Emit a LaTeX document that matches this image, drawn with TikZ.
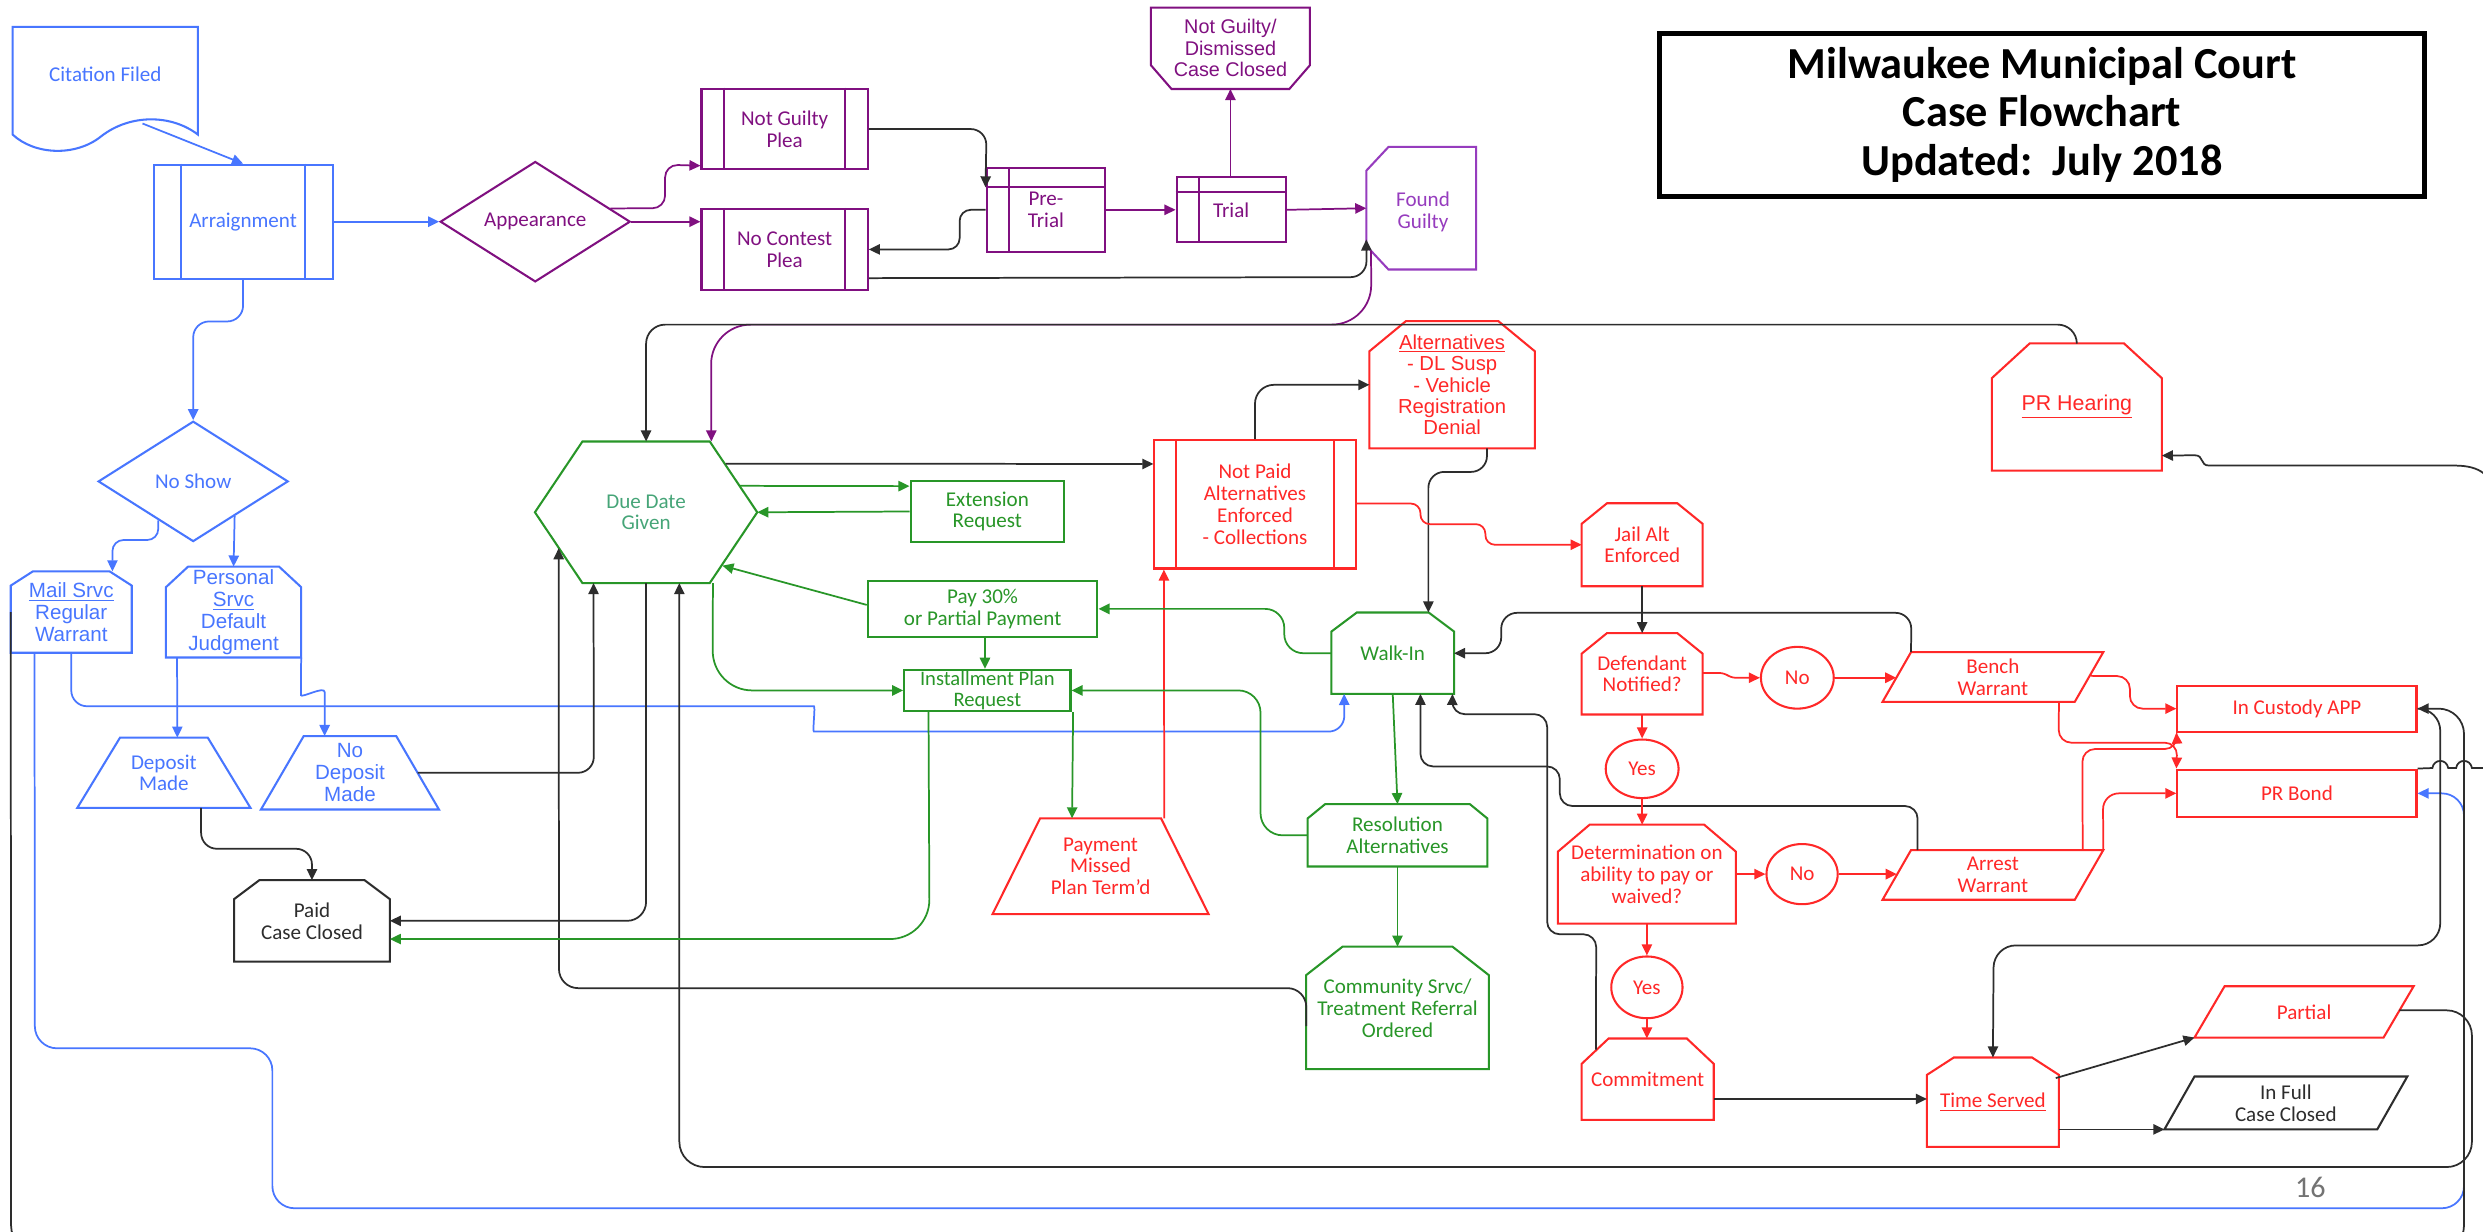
\documentclass[tikz,border=0pt]{standalone}
\usepackage{fontspec}
\setmainfont{Carlito}
\newfontfamily\arialf{Liberation Sans}
\usetikzlibrary{arrows.meta,calc,shapes.geometric}
\definecolor{bC}{RGB}{72,118,255}
\definecolor{pC}{RGB}{128,16,128}
\definecolor{pL}{RGB}{150,60,190}
\definecolor{gC}{RGB}{40,150,40}
\definecolor{gT}{RGB}{70,165,120}
\definecolor{rC}{RGB}{255,40,40}
\definecolor{kC}{RGB}{45,45,45}
\tikzset{
  shp/.style={line width=1.3pt},
  cn/.style={line width=1.1pt, rounded corners=#1, -{Triangle[length=7pt,width=6.5pt]}},
  cn/.default=8pt,
  ln/.style={line width=1.1pt},
  nd/.style 2 args={minimum width=#1pt, minimum height=#2pt, inner sep=0pt, align=center,
     font=\fontsize{13.3}{13.8}\selectfont},
  arf/.style={font=\arialf\fontsize{13}{13.8}\selectfont},
}
\newcommand\myChamT[4]{\draw[shp,#4] (#1.south west) -- ($(#1.north west)+(0,#3)$) -- ($(#1.north west)+(#2,0)$) -- ($(#1.north east)+(-#2,0)$) -- ($(#1.north east)+(0,#3)$) -- (#1.south east) -- cycle;}
\newcommand\myChamB[4]{\draw[shp,#4] (#1.north west) -- (#1.north east) -- ($(#1.south east)+(0,-#3)$) -- ($(#1.south east)+(-#2,0)$) -- ($(#1.south west)+(#2,0)$) -- ($(#1.south west)+(0,-#3)$) -- cycle;}
\newcommand\myChamL[4]{\draw[shp,#4] ($(#1.north west)+(#2,0)$) -- (#1.north east) -- (#1.south east) -- ($(#1.south west)+(#2,0)$) -- ($(#1.south west)+(0,-#3)$) -- ($(#1.north west)+(0,#3)$) -- cycle;}
\newcommand\myHexa[3]{\draw[shp,#3] (#1.west) -- ($(#1.north west)+(#2,0)$) -- ($(#1.north east)+(-#2,0)$) -- (#1.east) -- ($(#1.south east)+(-#2,0)$) -- ($(#1.south west)+(#2,0)$) -- cycle;}
\newcommand\myTrap[3]{\draw[shp,#3] ($(#1.north west)+(#2,0)$) -- ($(#1.north east)+(-#2,0)$) -- (#1.south east) -- (#1.south west) -- cycle;}
\newcommand\myPara[3]{\draw[shp,#3] ($(#1.north west)+(#2,0)$) -- (#1.north east) -- ($(#1.south east)+(-#2,0)$) -- (#1.south west) -- cycle;}
\newcommand\mySubr[3]{\draw[shp,#3] ($(#1.north west)+(#2,0)$) -- ($(#1.south west)+(#2,0)$); \draw[shp,#3] ($(#1.north east)+(-#2,0)$) -- ($(#1.south east)+(-#2,0)$);}
\newcommand\myStore[4]{\draw[shp,#4] ($(#1.north west)+(#2,0)$) -- ($(#1.south west)+(#2,0)$); \draw[shp,#4] ($(#1.north west)+(0,#3)$) -- ($(#1.north east)+(0,#3)$);}
\begin{document}
\begin{tikzpicture}[x=1pt,y=-1pt]
\fill[white] (0,0) rectangle (1568,778);
\useasboundingbox (0,0) rectangle (1568,778);

% ---------- title
\node[draw=black, line width=3pt, minimum width=483pt, minimum height=103pt, inner sep=0pt, align=center,
  font=\fontsize{28}{30.5}\selectfont\bfseries] (title) at (1289.5,72.5)
  {Milwaukee Municipal Court\\Case Flowchart\\Updated:\ \ July 2018};

% ---------- blue nodes
\node[nd={117}{60}, color=bC] (cit) at (66.5,47) {Citation Filed};
\draw[shp,bC] (8,17) -- (125,17) -- (125,85) .. controls (108,72) and (82,72) .. (64,86) .. controls (48,99) and (22,98) .. (8,85) -- cycle;
\coordinate (citw) at (90,78);
\node[nd={113}{72}, draw, shp, color=bC] (arr) at (153.5,140) {Arraignment};
\mySubr{arr}{18}{bC}
\node[diamond, aspect=1.58, draw, shp, color=bC, minimum width=120pt, minimum height=76pt, inner sep=0pt,
  font=\fontsize{13.3}{13.8}\selectfont] (nosh) at (122,304) {No Show};
\node[nd={76}{51}, arf, color=bC] (mail) at (45,386.5) {\underline{Mail Srvc}\\Regular\\Warrant};
\myChamT{mail}{14}{9}{bC}
\node[nd={85}{57}, arf, color=bC] (pers) at (147.5,386.5) {Personal\\\underline{Srvc}\\Default\\Judgment};
\myChamT{pers}{14}{13}{bC}
\node[nd={109}{44}, color=bC] (dep) at (103.5,488) {Deposit\\Made};
\myTrap{dep}{27}{bC}
\node[nd={112}{46}, arf, color=bC] (nodep) at (221,488) {No\\Deposit\\Made};
\myTrap{nodep}{27}{bC}
\node[nd={98}{51}, color=kC] (paid) at (197,581.5) {Paid\\Case Closed};
\myChamT{paid}{16}{12}{kC}

% ---------- purple nodes
\node[diamond, aspect=1.58, draw, shp, color=pC, minimum width=120pt, minimum height=76pt, inner sep=0pt,
  font=\fontsize{13.3}{13.8}\selectfont] (app) at (338,140) {Appearance};
\node[nd={105}{51}, draw, shp, color=pC] (ngp) at (495.5,81.5) {Not Guilty\\Plea};
\mySubr{ngp}{15}{pC}
\node[nd={105}{51}, draw, shp, color=pC] (ncp) at (495.5,157.5) {No Contest\\Plea};
\mySubr{ncp}{15}{pC}
\node[nd={75}{53}, draw, shp, color=pC] (pre) at (660.5,132.5) {Pre-\\Trial};
\myStore{pre}{15}{13}{pC}
\node[nd={69}{41}, draw, shp, color=pC] (trial) at (777.5,132.5) {Trial};
\myStore{trial}{15}{10}{pC}
\node[nd={100}{51}, color=pC, font=\arialf\fontsize{12.5}{13.5}\selectfont] (ngd) at (777,30.5) {Not Guilty/\\Dismissed\\Case Closed};
\myChamB{ngd}{13}{15}{pC}
\node[nd={69}{77}, color=pL] (fg) at (897.5,131.5) {\mbox{}\\\,Found\\\,Guilty};
\myChamL{fg}{14}{15}{pL}

% ---------- green nodes
\node[nd={140}{89}, color=gT] (due) at (408,323.5) {Due Date\\Given};
\myHexa{due}{30}{gC}
\node[nd={97}{38}, draw=gC, shp, text=gC] (ext) at (623.5,323) {Extension\\Request};
\node[nd={145}{35}, draw=gC, shp, text=gC] (pay) at (620.5,384.5) {Pay 30\%\\or Partial Payment};
\node[nd={105}{26}, draw=gC, shp, text=gC, font=\fontsize{13}{13}\selectfont] (inst) at (623.5,436) {Installment Plan\\Request};
\node[nd={77}{51}, color=gC] (walk) at (879.5,412.5) {Walk-In};
\myChamT{walk}{16}{12}{gC}
\node[nd={113}{39}, color=gC] (reso) at (882.5,527.5) {Resolution\\Alternatives};
\myChamT{reso}{11}{9}{gC}
\node[nd={115}{77}, color=gC] (comm) at (882.5,636.5) {Community Srvc/\\Treatment Referral\\Ordered};
\myChamT{comm}{23}{18}{gC}

% ---------- red nodes
\node[nd={127}{81}, draw, shp, color=rC] (np) at (792.5,318.5) {Not Paid\\Alternatives\\Enforced\\- Collections};
\mySubr{np}{14}{rC}
\node[nd={104}{80}, color=rC, font=\arialf\fontsize{12.8}{13.5}\selectfont] (alt) at (917,243)
  {\underline{Alternatives}\\- DL Susp\\- Vehicle\\Registration\\Denial};
\myChamT{alt}{23}{19}{rC}
\node[nd={107}{80}, color=rC, font=\arialf\fontsize{13.5}{14}\selectfont] (prh) at (1311.5,257) {\underline{PR Hearing}};
\myChamT{prh}{24}{22}{rC}
\node[nd={136}{60}, color=rC] (pm) at (695,547) {Payment\\Missed\\Plan Term’d};
\myTrap{pm}{30}{rC}
\node[nd={76}{52}, color=rC] (jail) at (1037,344) {Jail Alt\\Enforced};
\myChamT{jail}{16}{13}{rC}
\node[nd={76}{51}, color=rC] (dn) at (1037,425.5) {Defendant\\Notified?};
\myChamT{dn}{16}{13}{rC}
\node[ellipse, draw, shp, color=rC, minimum width=46pt, minimum height=39pt, inner sep=0pt,
  font=\fontsize{13.3}{13.8}\selectfont] (no1) at (1135,428) {No};
\node[nd={139}{31}, color=rC] (bw) at (1258.5,427.5) {Bench\\Warrant};
\myPara{bw}{18}{rC}
\node[nd={151}{29}, draw, shp, color=rC] (ica) at (1450.5,447.5) {In Custody APP};
\node[nd={151}{30}, draw, shp, color=rC] (prb) at (1450.5,501) {PR Bond};
\node[ellipse, draw, shp, color=rC, minimum width=46pt, minimum height=37pt, inner sep=0pt,
  font=\fontsize{13.3}{13.8}\selectfont] (yes1) at (1037,485.5) {Yes};
\node[nd={112}{62}, color=rC] (det) at (1040,552) {Determination on\\ability to pay or\\waived?};
\myChamT{det}{20}{17}{rC}
\node[ellipse, draw, shp, color=rC, minimum width=45pt, minimum height=38pt, inner sep=0pt,
  font=\fontsize{13.3}{13.8}\selectfont] (no2) at (1138,552) {No};
\node[nd={139}{31}, color=rC] (aw) at (1258.5,552.5) {Arrest\\Warrant};
\myPara{aw}{18}{rC}
\node[ellipse, draw, shp, color=rC, minimum width=45pt, minimum height=39pt, inner sep=0pt,
  font=\fontsize{13.3}{13.8}\selectfont] (yes2) at (1040,623.5) {Yes};
\node[nd={83}{51}, color=rC] (com) at (1040.5,681.5) {Commitment};
\myChamT{com}{17}{16}{rC}
\node[nd={83}{56}, color=rC] (ts) at (1258.5,696) {\underline{Time Served}};
\myChamT{ts}{17}{11}{rC}
\node[nd={138}{32}, color=rC] (part) at (1455,639) {Partial};
\myPara{part}{19}{rC}
\node[nd={153}{33}, color=kC] (inf) at (1443.5,696.5) {In Full\\Case Closed};
\myPara{inf}{19}{kC}
\node[font=\fontsize{19}{19}\selectfont, text=black!55] (pgnum) at (1459,750) {16};

% ---------- blue connectors
\draw[cn,bC] (citw) -- (arr.north);
\draw[cn,bC] (arr.east) -- (app.west);
\draw[cn=10pt,bC] (arr.south) -- (153.5,203) -- (122,203) -- (nosh.north);
\draw[cn=7pt,bC] (nosh.-132) -- (100,341) -- (71,341) -- ($(mail.north)+(26,0)$);
\draw[cn,bC] (nosh.-40) -- (pers.north);
\draw[cn=10pt,bC] (mail.south) -- (45,446) -- (504,446) .. controls (515,446) and (513,462) .. (524,462) -- (849,462) -- ($(walk.south west)+(8,0)$);
\draw[cn,bC] ($(pers.south west)+(7,0)$) -- ($(dep.north)+(8.5,0)$);
\draw[cn,bC] (pers.south east) -- (190,431) .. controls (190,441) and (205,433) .. (205,445) -- ($(nodep.north)+(-16,0)$);
\draw[cn=14pt,bC] ($(mail.south west)+(15,0)$) -- (22,662) -- (172,662) -- (172,763) -- (1556,763) -- (1556,501) -- (prb.east);

% ---------- purple connectors
\draw[cn=8pt,pC] (app.10) -- (420,131.5) -- (420,104) -- ($(ngp.south west)+(0,-3)$);
\draw[cn,pC] (app.east) -- ($(ncp.west)+(0,-17.5)$);
\draw[cn,pC] (pre.east) -- (trial.west);
\draw[cn,pC] ($(trial.north)+(-0.5,0)$) -- (ngd.south);
\draw[cn,pC] (trial.east) -- (fg.west);
\draw[cn=25pt,pC] ($(fg.south west)+(3,-12)$) -- (866,205) -- (449,205) -- ($(due.north east)+(-29,0)$);

% ---------- black connectors
\draw[cn=10pt,kC] (ngp.east) -- (623,81.5) -- ($(pre.north west)+(0,13)$);
\draw[cn=7pt,kC] (pre.west) -- (606,132.5) -- (606,157.5) -- (ncp.east);
\draw[cn=10pt,kC] ($(ncp.south east)+(0,-8)$) -- (863,175) -- ($(fg.south west)+(0,-19)$);
\draw[cn=12pt,kC] (prh.north) -- (1311.5,205) -- (408,205) -- (due.north);
\draw[cn,kC] ($(due.north east)+(-20,14)$) -- ($(np.west)+(0,-25.5)$);
\draw[cn=12pt,kC] (np.north) -- (792.5,243) -- (alt.west);
\draw[cn=10pt,kC] ($(alt.south)+(22,0)$) -- (939,298) -- (902,298) -- ($(walk.north)+(22.5,0)$);
\draw[cn,kC] (jail.south) -- (dn.north);
\draw[cn=10pt,kC] ($(bw.north west)+(18,0)$) -- (1207,387) -- (948,387) -- (948,412.5) -- (walk.east);
\draw[cn=8pt,kC] ($(com.north west)+(9,7)$) -- (1008,590) -- (977,590) -- (977,451) -- (917,451) -- ($(walk.south east)+(-1,0)$);
\draw[cn=8pt,kC] ($(aw.north west)+(22,0)$) -- (1211,509) -- (985,509) -- (985,484) -- (897,484) -- ($(walk.south)+(17.5,0)$);
\draw[cn=12pt,kC] (due.south) -- (408,581.5) -- (paid.east);
\draw[cn=12pt,kC] ($(comm.west)+(0,11.5)$) -- (825,624) -- (353,624) -- ($(due.south west)+(15,-22)$);
\draw[cn=10pt,kC] ($(nodep.east)+(-13.5,0)$) -- (375,488) -- ($(due.south west)+(37,0)$);
\draw[cn=10pt,kC] ($(dep.south)+(23.5,0)$) -- (127,536) -- (197,536) -- (paid.north);
\draw[cn=16pt,kC] ($(part.east)+(-9,-1)$) -- (1561,638) -- (1561,737) -- (429,737) -- ($(due.south)+(21,0)$);
\draw[cn=14pt,kC] (ica.east) -- (1541,447.5) -- (1541,597) -- (1259,597) -- (ts.north);
\draw[cn=16pt,kC] (mail.west) -- (7,790) -- (1556,790) -- (1556,447.5) -- (ica.east);
\draw[cn,kC] ($(com.east)+(0,12.5)$) -- ($(ts.west)+(0,-2)$);
\draw[cn,kC] ($(ts.north east)+(-2,13)$) -- (part.south west);
\draw[cn,kC] ($(ts.south east)+(0,-11)$) -- (inf.south west);
\draw[ln,kC,-{Triangle[length=7pt,width=6.5pt]}] (prb.north east) -- (1536,485) .. controls (1537,479) and (1545,479) .. (1546,485) -- (1551,485) .. controls (1552,479) and (1560,479) .. (1561,485) -- (1575,485) -- (1575,316) .. controls (1575,300) and (1566,294) .. (1550,294) -- (1395,294) .. controls (1389,294) and (1392,287.5) .. (1386,287.5) -- ($(prh.south east)+(0,-9.5)$);

% ---------- red connectors
\draw[cn=6pt,rC] ($(np.east)+(0,-0.5)$) -- (897,318) -- (897,331) -- (938,331) -- (938,344) -- (jail.west);
\draw[cn,rC] ($(pm.north east)+(-28,0)$) -- ($(np.south)+(-57.5,0)$);
\draw[cn=3pt,rC] ($(dn.east)+(0,-0.5)$) -- (1089,425) -- (1093,428) -- (no1.west);
\draw[cn,rC] (no1.east) -- ($(bw.west)+(8.7,0.5)$);
\draw[cn,rC] (dn.south) -- (yes1.north);
\draw[cn,rC] (yes1.south) -- ($(det.north)+(-3,0)$);
\draw[cn,rC] (det.east) -- (no2.west);
\draw[cn,rC] (no2.east) -- ($(aw.west)+(9,-0.5)$);
\draw[cn,rC] (det.south) -- (yes2.north);
\draw[cn,rC] (yes2.south) -- ($(com.north)+(-0.5,0)$);
\draw[cn=8pt,rC] ($(bw.north east)+(-8,15)$) -- (1345,427) -- (1345,447.5) -- (ica.west);
\draw[cn=8pt,rC] ($(bw.south east)+(-28,0)$) -- (1300,469) -- (1375,469) -- (prb.north west);
\draw[cn=8pt,rC] ($(aw.north east)+(-13,0)$) -- (1315,473) -- (1375,473) -- (ica.south west);
\draw[cn=10pt,rC] (aw.north east) -- (1328,501) -- (prb.west);

% ---------- green connectors
\draw[cn,gC] ($(due.north east)+(-11,28)$) -- ($(ext.west)+(0,-16)$);
\draw[cn,gC] (ext.west) -- (due.east);
\draw[cn,gC] ($(pay.west)+(0,-2.5)$) -- ($(due.south east)+(-22,-11)$);
\draw[cn,gC] ($(pay.south)+(1.5,0)$) -- ($(inst.north)+(-1.5,0)$);
\draw[cn=25pt,gC] ($(due.south east)+(-28,0)$) -- (450,436) -- (inst.west);
\draw[cn=25pt,gC] ($(inst.south west)+(16,0)$) -- (587,593) -- ($(paid.east)+(0,11.5)$);
\draw[cn,gC] ($(inst.south east)+(1,0)$) -- ($(pm.north)+(-18,0)$);
\draw[cn=12pt,gC] (walk.west) -- (811,412.5) -- (811,384.5) -- (pay.east);
\draw[cn=14pt,gC] (reso.west) -- (796,527.5) -- (796,436) -- (inst.east);
\draw[cn,gC] (walk.south) -- (reso.north);
\draw[cn,gC] (reso.south) -- (comm.north);
\end{tikzpicture}
\end{document}
